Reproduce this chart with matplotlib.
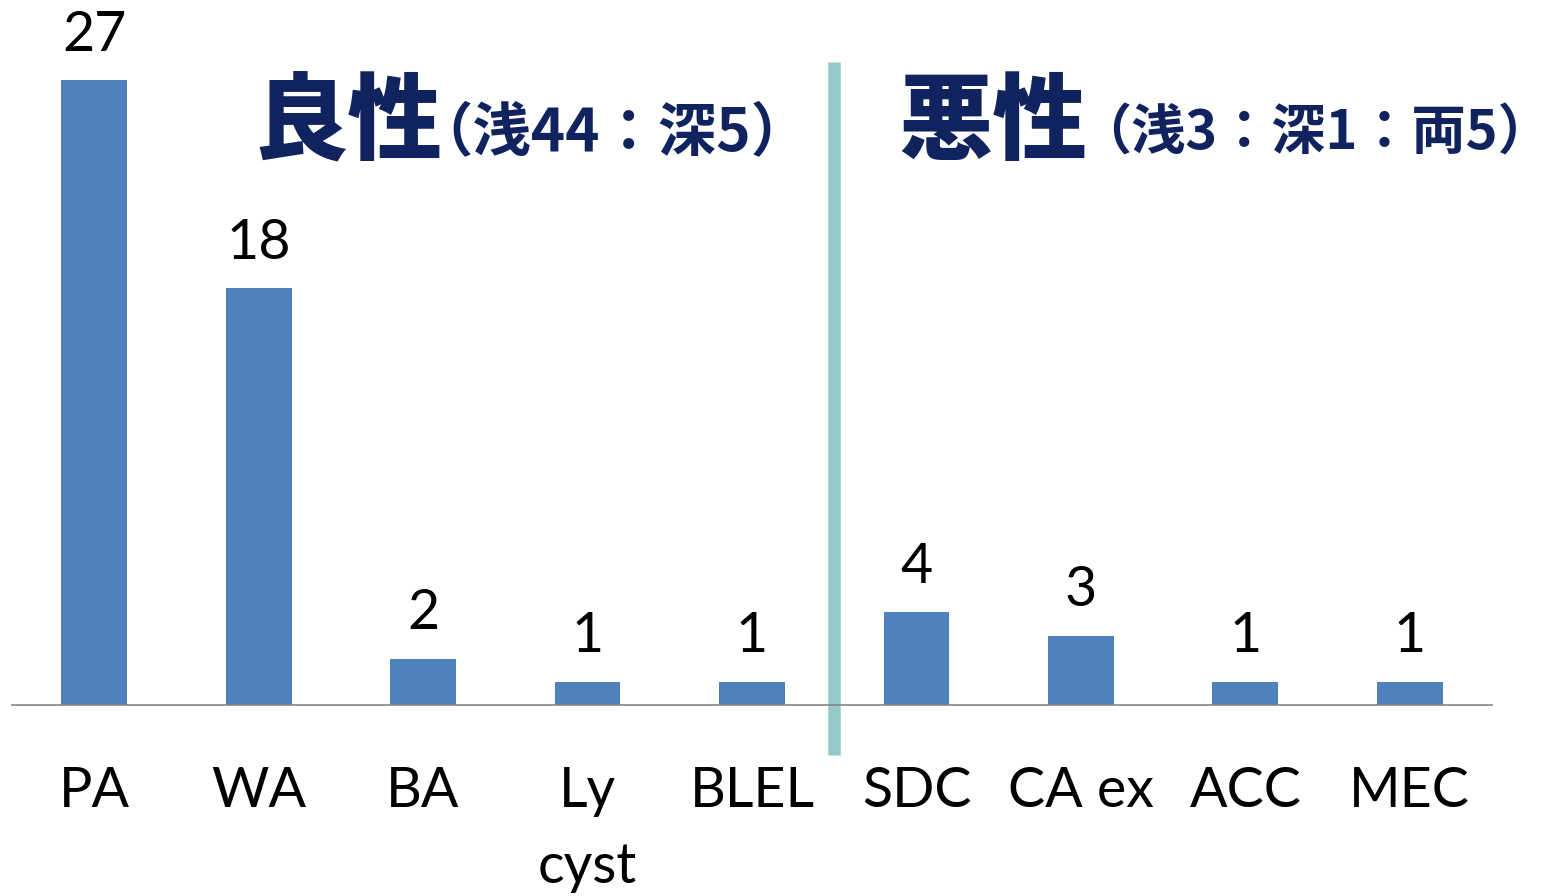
import matplotlib

matplotlib.use('Agg')
import matplotlib.pyplot as plt

# data
labels = ['PA', 'WA', 'BA', 'Ly\ncyst', 'BLEL', 'SDC', 'CA ex', 'ACC', 'MEC']
counts = [27, 18, 2, 1, 1, 4, 3, 1, 1]
benign_title = ['良性', '（浅44：深5）']
malignant_title = ['悪性', '（浅3：深1：両5）']

bar_color = '#4f81bd'
navy = '#10235f'
cjk = ['Noto Sans CJK JP', 'DejaVu Sans']

plt.rcParams['font.family'] = ['Lato', 'DejaVu Sans']

fig = plt.figure(figsize=(15.54, 8.96), dpi=100)
ax = fig.add_axes([12 / 1554, 191 / 896, 1480 / 1554, 705 / 896])

x = list(range(len(labels)))
bars = ax.bar(x, counts, width=0.4, color=bar_color, zorder=2)
ax.bar_label(bars, labels=[str(c) for c in counts], padding=14, fontsize=40)

ax.set_xlim(-0.5, 8.5)
ax.set_ylim(0, 705 / 23.15)
ax.set_xticks(x)
ax.set_xticklabels(labels, fontsize=40, linespacing=1.6, va='top')
ax.tick_params(axis='x', length=0, pad=44)
ax.set_yticks([])
for s in ['top', 'left', 'right']:
    ax.spines[s].set_visible(False)
ax.spines['bottom'].set_color('#868686')
ax.spines['bottom'].set_linewidth(1.2)

# divider between benign and malignant groups
ax.axvline(4.5, ymin=-50 / 705, ymax=(705 - 62) / 705, color='#93c9c7',
           linewidth=9, clip_on=False, zorder=1, solid_capstyle='butt')


def title(parts, x0, x1, size, ha='left'):
    fig.text(x0 / 1554, 1 - 152 / 896, parts[0], fontsize=68,
             fontweight='heavy', color=navy, family=cjk, va='baseline')
    fig.text(x1 / 1554, 1 - 150 / 896, parts[1], fontsize=size, ha=ha,
             fontweight='bold', color=navy, family=cjk, va='baseline')


title(benign_title, 253, 414, 42)
title(malignant_title, 898, 1552, 39, ha='right')

fig.savefig('out.png', dpi=100)
